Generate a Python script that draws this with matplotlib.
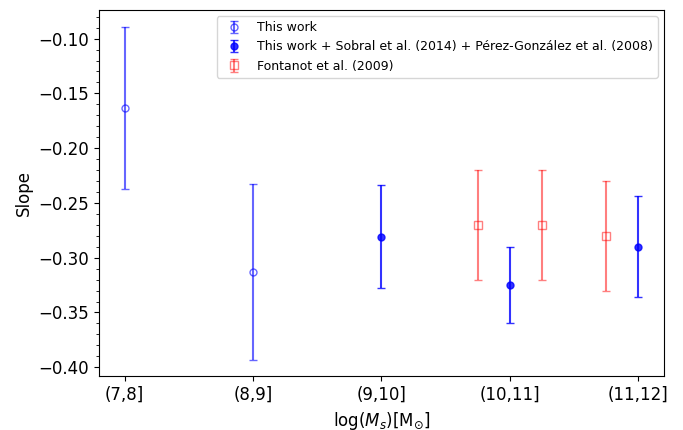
import numpy as np
import matplotlib.pyplot as plt
from matplotlib.ticker import MultipleLocator

bins = ["(7,8]", "(8,9]", "(9,10]", "(10,11]", "(11,12]"]

# this work
tw_x = [0, 1]
tw_y = [-0.163, -0.313]
tw_err = [0.074, 0.080]

# this work + Sobral + Perez-Gonzalez
comb_x = [2, 3, 4]
comb_y = [-0.281, -0.325, -0.290]
comb_err = [0.047, 0.035, 0.046]

# Fontanot
fon_x = [2.75, 3.25, 3.75]
fon_y = [-0.27, -0.27, -0.28]
fon_err = [0.05, 0.05, 0.05]

fig = plt.figure(figsize=(6.83, 4.30), dpi=100)
ax = fig.add_axes([0.145, 0.125, 0.827, 0.852])

ax.errorbar(tw_x, tw_y, yerr=tw_err, fmt='o', color='blue', mfc='none',
            alpha=0.6, capsize=3, ms=5, label='This work')
ax.errorbar(comb_x, comb_y, yerr=comb_err, fmt='o', color='blue',
            alpha=0.8, capsize=3, ms=5,
            label='This work + Sobral et al. (2014) + Pérez-González et al. (2008)')
ax.errorbar(fon_x, fon_y, yerr=fon_err, fmt='s', color='red', mfc='none',
            alpha=0.5, capsize=3, ms=6, label='Fontanot et al. (2009)')

ax.set_xticks(range(len(bins)))
ax.set_xticklabels(bins, fontsize=12)
ax.tick_params(axis='y', labelsize=12)
ax.yaxis.set_minor_locator(MultipleLocator(0.01))
ax.set_xlabel(r'$\log(M_s)$[M$_{\odot}$]', fontsize=12)
ax.set_ylabel('Slope', fontsize=12)
ax.legend(loc='upper right', fontsize=9)

fig.savefig('out.png', dpi=100)
